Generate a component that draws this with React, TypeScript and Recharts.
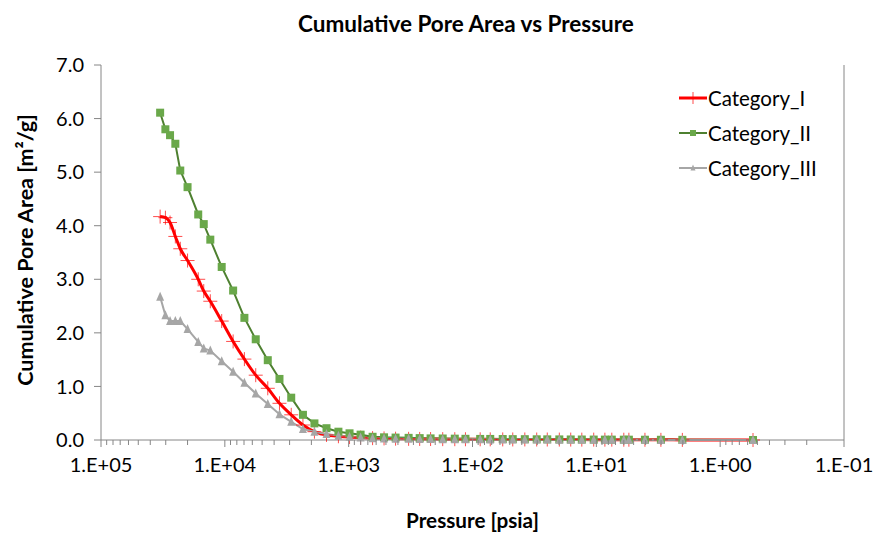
import { LineChart, Line, XAxis, YAxis, ReferenceLine } from "recharts";

// pressure [psia] shared by all three runs
const pressure = [
  33300, 30200, 27700, 25100, 22900, 20000, 16400, 14800, 13100, 10600,
  8570, 6950, 5630, 4500, 3620, 2910, 2340, 1890, 1510, 1210,
  984, 801, 641, 518, 418, 328, 267, 218, 174, 139,
  114, 86.7, 71.9, 57.0, 47.3, 37.8, 30.3, 24.9, 19.9, 16.1,
  13.1, 10.5, 8.53, 7.5, 6.0, 5.46, 4.05, 3.01, 2.02, 0.543,
];

const categoryI = [
  4.17, 4.15, 4.06, 3.8, 3.57, 3.35, 3.0, 2.78, 2.59, 2.22,
  1.84, 1.51, 1.21, 0.965, 0.685, 0.47, 0.28, 0.155, 0.095, 0.07,
  0.055, 0.045, 0.035, 0.03, 0.025, 0.022, 0.02, 0.018, 0.016, 0.015,
  0.014, 0.013, 0.012, 0.011, 0.01, 0.01, 0.009, 0.009, 0.008, 0.008,
  0.007, 0.007, 0.006, 0.006, 0.005, 0.005, 0.004, 0.003, 0.002, 0.0,
];

const categoryII = [
  6.11, 5.8, 5.69, 5.53, 5.03, 4.72, 4.21, 4.03, 3.74, 3.23,
  2.79, 2.28, 1.88, 1.49, 1.14, 0.79, 0.47, 0.31, 0.22, 0.155,
  0.125, 0.1, 0.06, 0.05, 0.045, 0.04, 0.035, 0.03, 0.028, 0.025,
  0.022, 0.02, 0.02, 0.018, 0.016, 0.015, 0.013, 0.012, 0.011, 0.01,
  0.009, 0.008, 0.007, 0.007, 0.006, 0.006, 0.005, 0.004, 0.003, 0.0,
];

const categoryIII = [
  2.675, 2.33, 2.22, 2.22, 2.22, 2.07, 1.83, 1.71, 1.67, 1.47,
  1.275, 1.07, 0.87, 0.67, 0.48, 0.34, 0.205, 0.155, 0.11, 0.08,
  0.06, 0.045, 0.035, 0.03, 0.025, 0.022, 0.02, 0.018, 0.016, 0.014,
  0.013, 0.012, 0.011, 0.01, 0.009, 0.009, 0.008, 0.008, 0.007, 0.007,
  0.006, 0.006, 0.005, 0.005, 0.004, 0.004, 0.003, 0.002, 0.001, 0.0,
];

const majorTicks = [100000, 10000, 1000, 100, 10, 1, 0.1];
const majorLabels = ["1.E+05", "1.E+04", "1.E+03", "1.E+02", "1.E+01", "1.E+00", "1.E-01"];
const yTicks = [0, 1, 2, 3, 4, 5, 6, 7];

const minorTicks: number[] = [];
majorTicks.slice(1).forEach((m) => {
  for (let k = 2; k <= 9; k++) minorTicks.push(+(m * k).toPrecision(3));
});
const allTicks = [...majorTicks, ...minorTicks].sort((a, b) => b - a);

const data = pressure.map((p, i) => ({
  p,
  I: categoryI[i],
  II: categoryII[i],
  III: categoryIII[i],
}));

const FONT = "Lato, 'Open Sans', sans-serif";
const AXIS = "#868686";
const RED = "#ff0000";
const GREEN_LINE = "#4e8030";
const GREEN = "#6aa84a";
const GRAY = "#a6a6a6";

function XTick({ x, y, payload }: any) {
  const idx = majorTicks.indexOf(payload.value);
  const major = idx >= 0;
  return (
    <g>
      <line x1={x} x2={x} y1={y} y2={y + (major ? 7 : 5)} stroke={AXIS} />
      {major && (
        <text x={x} y={y + 32} textAnchor="middle" fontSize={20} fontFamily={FONT} fill="#000">
          {majorLabels[idx]}
        </text>
      )}
    </g>
  );
}

function Cross({ cx, cy, size = 7 }: any) {
  return (
    <g opacity={0.7}>
      <line x1={cx - size} x2={cx + size} y1={cy} y2={cy} stroke={RED} strokeWidth={1} />
      <line x1={cx} x2={cx} y1={cy - size} y2={cy + size} stroke={RED} strokeWidth={1} />
    </g>
  );
}

function Square({ cx, cy, size = 8 }: any) {
  return <rect x={cx - size / 2} y={cy - size / 2} width={size} height={size} fill={GREEN} />;
}

function Triangle({ cx, cy, size = 8 }: any) {
  const h = size;
  return (
    <polygon
      points={`${cx},${cy - h / 2 - 1} ${cx - size / 2},${cy + h / 2} ${cx + size / 2},${cy + h / 2}`}
      fill={GRAY}
    />
  );
}

const legendItems = [
  { name: "Category_I", color: RED, width: 3, Marker: Cross, size: 6 },
  { name: "Category_II", color: GREEN_LINE, width: 2, Marker: Square, size: 6 },
  { name: "Category_III", color: GRAY, width: 2, Marker: Triangle, size: 5 },
];

function LegendBox() {
  return (
    <div
      style={{
        position: "absolute",
        left: 679,
        top: 80,
        fontFamily: FONT,
        fontSize: 20.5,
        color: "#000",
      }}
    >
      {legendItems.map((it) => (
        <div key={it.name} style={{ display: "flex", alignItems: "center", height: 35 }}>
          <svg width={28} height={20} style={{ marginRight: 1 }}>
            <line x1={0} x2={28} y1={10} y2={10} stroke={it.color} strokeWidth={it.width} />
            <it.Marker cx={14} cy={10} size={it.size} />
          </svg>
          <span>{it.name}</span>
        </div>
      ))}
    </div>
  );
}

export default function App() {
  return (
    <div style={{ position: "absolute", left: 0, top: 0, width: 877, height: 538, background: "#fff" }}>
      <LineChart
        width={877}
        height={538}
        data={data}
        margin={{ top: 65, right: 33, bottom: 0, left: 0 }}
        style={{ position: "absolute", left: 0, top: 0 }}
      >
        <XAxis
          dataKey="p"
          type="number"
          scale="log"
          domain={[0.1, 100000]}
          reversed
          ticks={allTicks}
          interval={0}
          tick={<XTick />}
          tickLine={false}
          tickSize={0}
          tickMargin={0}
          axisLine={{ stroke: AXIS }}
          height={98}
          allowDataOverflow
        />
        <YAxis
          type="number"
          domain={[0, 7]}
          ticks={yTicks}
          interval={0}
          tickFormatter={(v: number) => v.toFixed(1)}
          tick={{ fontSize: 20, fontFamily: FONT, fill: "#000" }}
          tickSize={7}
          tickMargin={10}
          axisLine={{ stroke: AXIS }}
          tickLine={{ stroke: AXIS }}
          width={101}
        />
        <ReferenceLine x={0.1} stroke={AXIS} ifOverflow="visible" />
        <Line
          dataKey="I"
          name="Category_I"
          type="monotone"
          stroke={RED}
          strokeWidth={3}
          dot={(props: any) => <Cross key={`c${props.index}`} cx={props.cx} cy={props.cy} />}
          activeDot={false}
          isAnimationActive={false}
        />
        <Line
          dataKey="II"
          name="Category_II"
          type="linear"
          stroke={GREEN_LINE}
          strokeWidth={2}
          dot={(props: any) => <Square key={`s${props.index}`} cx={props.cx} cy={props.cy} />}
          activeDot={false}
          isAnimationActive={false}
        />
        <Line
          dataKey="III"
          name="Category_III"
          type="linear"
          stroke={GRAY}
          strokeWidth={2}
          dot={(props: any) => <Triangle key={`t${props.index}`} cx={props.cx} cy={props.cy} />}
          activeDot={false}
          isAnimationActive={false}
        />
      </LineChart>
      <div
        style={{
          position: "absolute",
          left: 0,
          width: 932,
          top: 10,
          textAlign: "center",
          fontFamily: FONT,
          fontWeight: 700,
          fontSize: 22.5,
        }}
      >
        Cumulative Pore Area vs Pressure
      </div>
      <div
        style={{
          position: "absolute",
          left: 101,
          width: 743,
          top: 508,
          textAlign: "center",
          fontFamily: FONT,
          fontWeight: 700,
          fontSize: 20.7,
        }}
      >
        Pressure [psia]
      </div>
      <div
        style={{
          position: "absolute",
          left: 25 - 200,
          top: 250 - 14,
          width: 400,
          height: 28,
          lineHeight: "28px",
          textAlign: "center",
          transform: "rotate(-90deg)",
          fontFamily: FONT,
          fontWeight: 700,
          fontSize: 21.5,
        }}
      >
        Cumulative Pore Area [m²/g]
      </div>
      <LegendBox />
    </div>
  );
}
